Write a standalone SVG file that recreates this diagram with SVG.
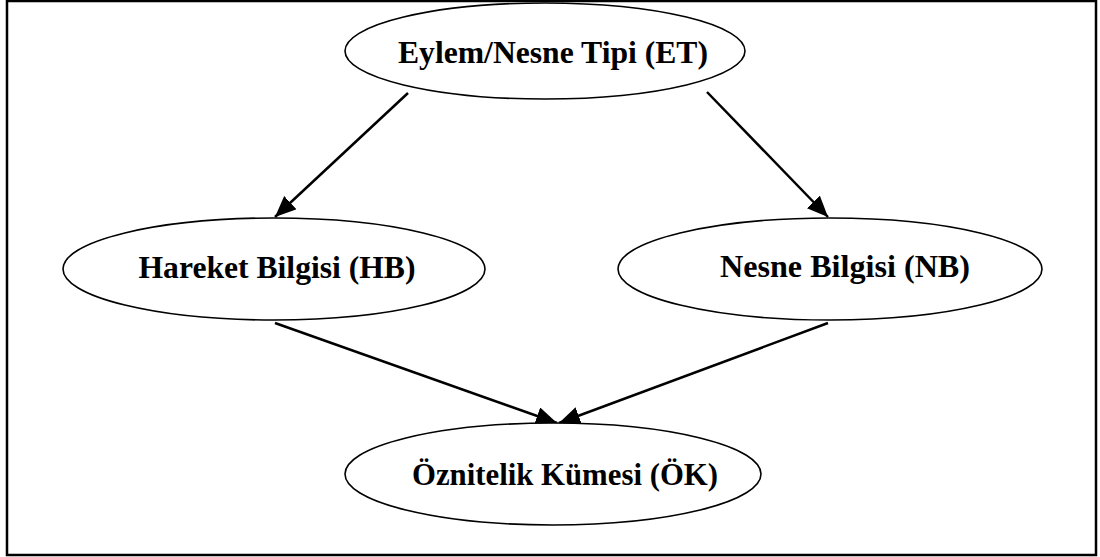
<svg xmlns="http://www.w3.org/2000/svg" width="1100" height="557" viewBox="0 0 1100 557">
<style>
.node ellipse{fill:#fff;stroke:#000;stroke-width:1.6}
.node text{font-family:"Liberation Serif","Times New Roman",serif;font-weight:bold;font-size:31px;fill:#000;text-anchor:middle}
.edge{stroke:#000;stroke-width:2.5;fill:none;marker-end:url(#arr)}
</style>
<defs>
<marker id="arr" markerUnits="userSpaceOnUse" markerWidth="24" markerHeight="20" refX="21" refY="9" orient="auto">
<path d="M0,0 L21,9 L0,18 Z" fill="#000"/>
</marker>
</defs>
<rect x="0" y="0" width="1100" height="557" fill="#fff"/>
<rect x="7" y="1" width="1089" height="554" fill="none" stroke="#000" stroke-width="2.5"/>
<g id="connectors">
<line class="edge" x1="408" y1="93" x2="275" y2="217"/>
<line class="edge" x1="707" y1="92" x2="828" y2="217"/>
<line class="edge" x1="275" y1="323" x2="557" y2="423"/>
<line class="edge" x1="828" y1="323" x2="559" y2="423"/>
</g>
<g id="ET" class="node">
<ellipse cx="545" cy="51" rx="200" ry="48"/>
<text x="553" y="63" textLength="310" lengthAdjust="spacingAndGlyphs">Eylem/Nesne Tipi (ET)</text>
</g>
<g id="HB" class="node">
<ellipse cx="274" cy="269" rx="211" ry="51"/>
<text x="277" y="278" textLength="277" lengthAdjust="spacingAndGlyphs">Hareket Bilgisi (HB)</text>
</g>
<g id="NB" class="node">
<ellipse cx="830" cy="269" rx="212" ry="51"/>
<text x="845" y="277" textLength="250" lengthAdjust="spacingAndGlyphs">Nesne Bilgisi (NB)</text>
</g>
<g id="OK" class="node">
<ellipse cx="553" cy="474" rx="208" ry="51"/>
<text x="565" y="485" textLength="306" lengthAdjust="spacingAndGlyphs">Öznitelik Kümesi (ÖK)</text>
</g>
</svg>
